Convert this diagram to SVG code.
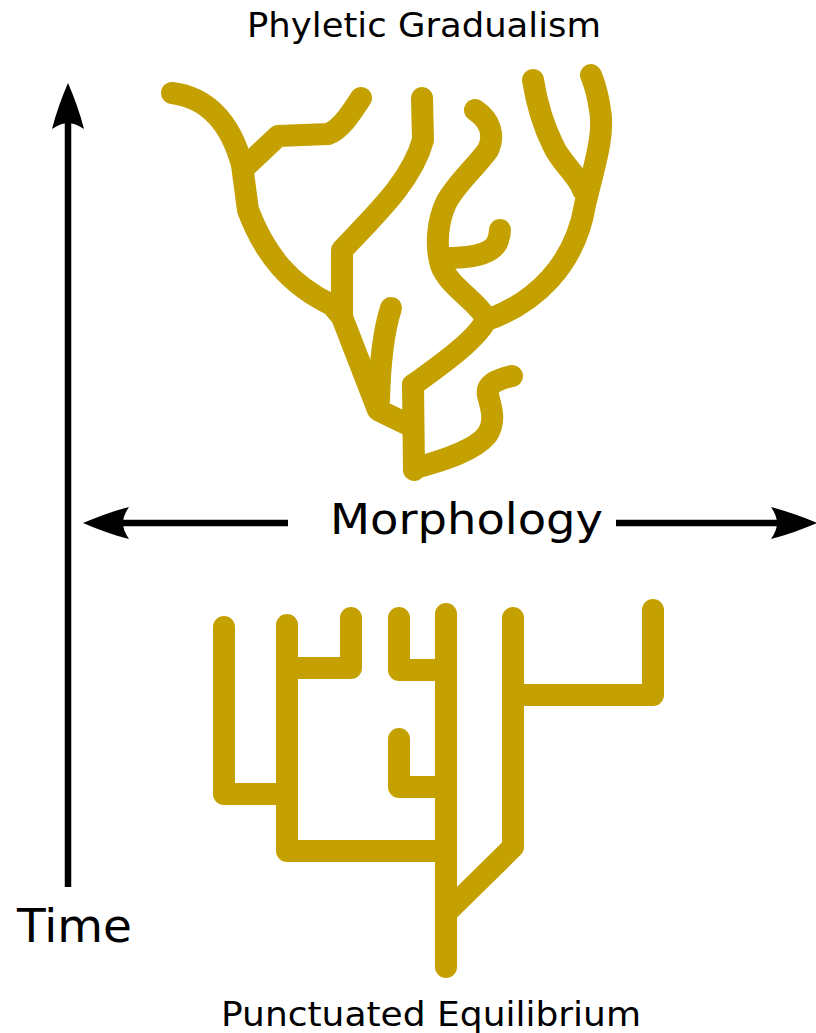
<svg xmlns="http://www.w3.org/2000/svg" width="816" height="1033" viewBox="0 0 816 1033">
<style>
.br{fill:none;stroke:#c4a000;stroke-width:22;stroke-linecap:round;stroke-linejoin:round}
.ax{fill:none;stroke:#000;stroke-width:6.5}
.ah{fill:#000;stroke:none}
text{font-family:"DejaVu Sans","Liberation Sans",sans-serif;fill:#000}
</style>
<defs>
<path id="head" d="M0,0 C-14,-6 -30,-12 -46,-16 C-42,-10 -40,-5 -40,0 C-40,5 -42,10 -46,16 C-30,12 -14,6 0,0 Z"/>
</defs>
<rect width="816" height="1033" fill="#fff"/>
<g id="connectors">
<line class="ax" x1="68" y1="887" x2="68" y2="115"/>
<use href="#head" class="ah" transform="translate(68,83) rotate(-90)"/>
<line class="ax" x1="288" y1="523" x2="118" y2="523"/>
<use href="#head" class="ah" transform="translate(83,523) rotate(180)"/>
<line class="ax" x1="616" y1="523" x2="782" y2="523"/>
<use href="#head" class="ah" transform="translate(817,523)"/>
</g>
<g id="phyletic-tree">
<path class="br" d="M172,93 C205,97 230,120 242,165 L248,210 C265,255 290,285 332,305 L342,317 L378,410 L413,427"/>
<path class="br" d="M244,168 L278,136 L328,134 C340,130 350,115 361,98"/>
<path class="br" d="M422,98 L423,140 C412,180 378,212 342,250 L342,317"/>
<path class="br" d="M391,308 C384,330 380,360 379,400"/>
<path class="br" d="M413,385 L414,470"/>
<path class="br" d="M415,468 C445,460 475,450 487,435 C497,420 490,405 488,395 C486,385 495,380 512,376"/>
<path class="br" d="M413,385 C445,362 475,340 485,322"/>
<path class="br" d="M487,320 C535,303 575,265 585,205 C593,170 605,135 600,110 C598,95 595,85 591,75"/>
<path class="br" d="M583,190 C578,175 560,162 553,145 C543,125 537,105 533,80"/>
<path class="br" d="M484,315 C475,300 448,285 441,265 C435,245 438,220 446,203 C455,185 475,168 488,150 C495,135 490,120 475,110"/>
<path class="br" d="M443,258 C470,258 490,255 497,243 C499,238 500,233 500,230"/>
</g>
<g id="punctuated-tree">
<path class="br" d="M224,627 L224,794 L287,794"/>
<path class="br" d="M287,625 L287,851 L446,851"/>
<path class="br" d="M287,668 L351,668 L351,618"/>
<path class="br" d="M446,614 L446,967"/>
<path class="br" d="M399,618 L399,670 L446,670"/>
<path class="br" d="M399,739 L399,787 L446,787"/>
<path class="br" d="M513,618 L513,847 L446,913"/>
<path class="br" d="M513,695 L653,695 L653,610"/>
</g>
<g id="labels">
<text id="title-top" x="247" y="37" font-size="34" textLength="354" lengthAdjust="spacingAndGlyphs">Phyletic Gradualism</text>
<text id="morphology" x="330" y="534" font-size="43" textLength="273" lengthAdjust="spacingAndGlyphs">Morphology</text>
<text id="time" x="17" y="942" font-size="46" textLength="115" lengthAdjust="spacingAndGlyphs">Time</text>
<text id="title-bottom" x="221" y="1026" font-size="34" textLength="420" lengthAdjust="spacingAndGlyphs">Punctuated Equilibrium</text>
</g>
</svg>
